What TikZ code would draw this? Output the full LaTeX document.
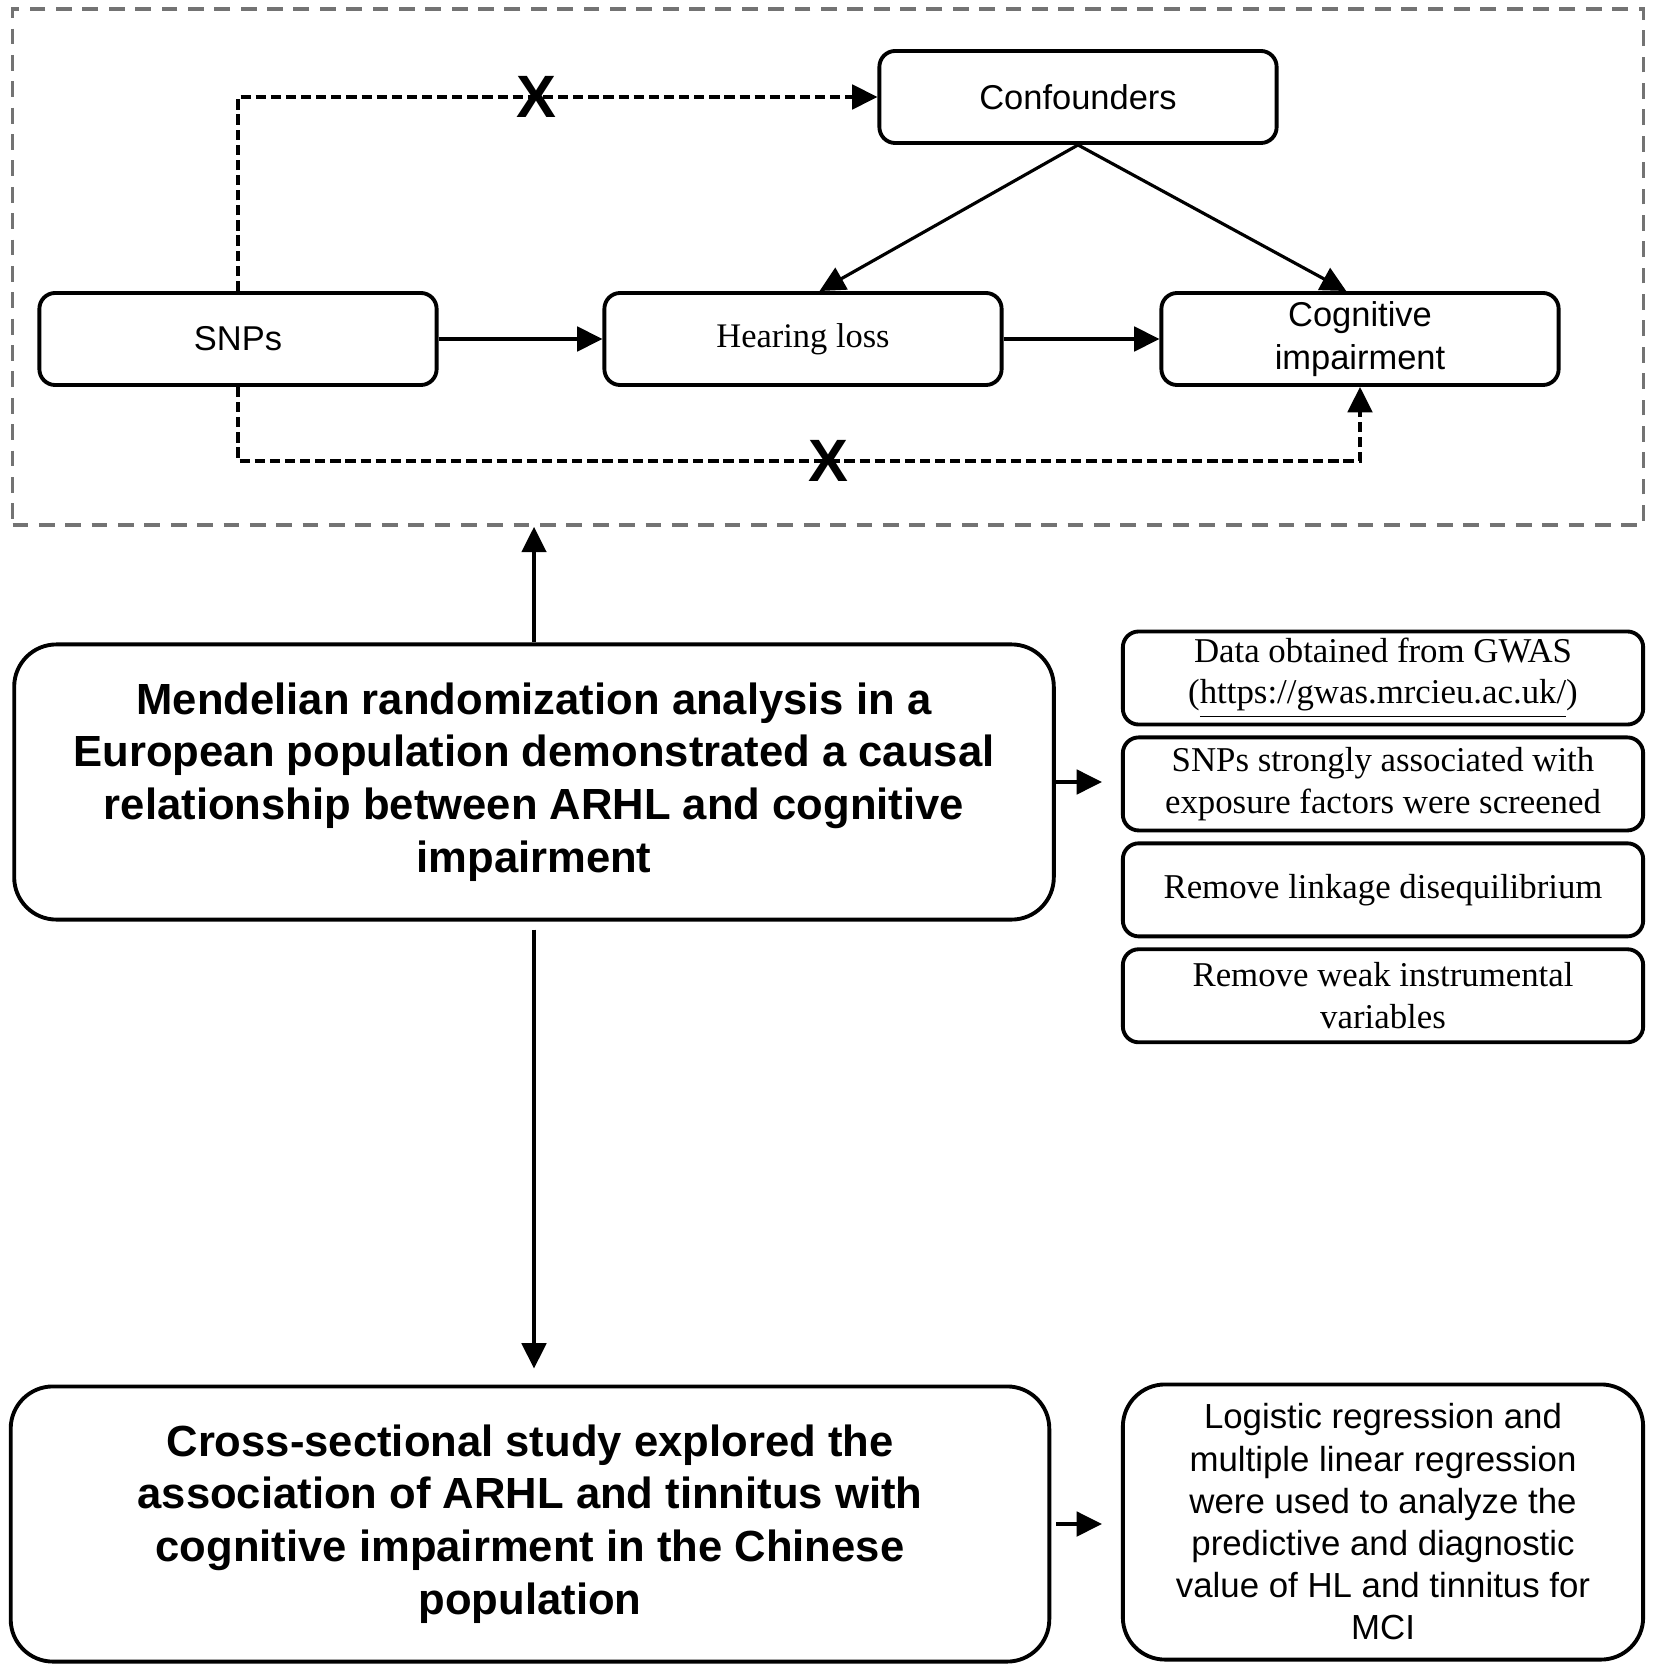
\documentclass[tikz,border=0pt]{standalone}
\usepackage{fontspec}
\setmainfont{Liberation Sans}
\newfontfamily\tnrfont{Liberation Serif}
\usetikzlibrary{arrows.meta,positioning}

\begin{document}
\begin{tikzpicture}[x=0.01cm,y=-0.01cm,
  box/.style={draw,line width=1.1pt,rounded corners=4.5pt,minimum width=3.97cm,minimum height=0.92cm,inner sep=0pt,align=center,font=\fontsize{9.8}{12}\selectfont},
  stepbox/.style={draw,line width=1.1pt,rounded corners=4.5pt,minimum width=5.2cm,minimum height=0.93cm,inner sep=0pt,align=center,font=\tnrfont\fontsize{9.9}{11.9}\selectfont},
  bigbox/.style={draw,line width=1.1pt,rounded corners=12pt,minimum height=2.75cm,inner sep=0pt,align=center,font=\bfseries\fontsize{12.4}{15}\selectfont},
  nolink/.style={inner sep=0pt,font=\bfseries\fontsize{17}{17}\selectfont},
  arr/.style={-{Triangle[length=7.2pt,width=7pt]},line width=0.9pt},
  dasharr/.style={arr,dash pattern=on 2.9pt off 1.4pt}]
  \useasboundingbox (0,0) rectangle (1654,1673);

  % Causal model panel
  \node[draw=black!55,line width=1pt,dash pattern=on 4.5pt off 3pt,minimum width=16.30cm,minimum height=5.16cm] (panel) at (828,267) {};
  \node[box] (conf) at (1078,97) {Confounders};
  \node[box] (snps) at (238,339) {SNPs};
  \node[box,font=\tnrfont\fontsize{9.8}{12}\selectfont] (hl) at (803,339) {Hearing loss};
  \node[box] (ci) at (1360,339) {Cognitive\\impairment};
  \node[nolink] (xtop) at (536,97) {X};
  \node[nolink] (xbot) at (828,461) {X};

  \draw[arr] (snps) -- (hl);
  \draw[arr] (hl) -- (ci);
  \draw[arr] (conf.south) -- (hl.71);
  \draw[arr] (conf.south) -- (ci.106);
  \draw[dasharr] (snps.north) |- (conf.west);
  \draw[dasharr] (snps.south) |- (xbot.center) -| (ci.south);

  % Mendelian randomization
  \node[bigbox,minimum width=10.39cm] (mr) at (534,782) {Mendelian randomization analysis in a\\European population demonstrated a causal\\relationship between ARHL and cognitive\\impairment};
  \node[stepbox] (r1) at (1383,678) {Data obtained from GWAS\\(\underline{https://gwas.mrcieu.ac.uk/})};
  \node[stepbox,below=0.09cm of r1] (r2) {SNPs strongly associated with\\exposure factors were screened};
  \node[stepbox,below=0.09cm of r2] (r3) {Remove linkage disequilibrium};
  \node[stepbox,below=0.09cm of r3] (r4) {Remove weak instrumental\\variables};

  \draw[arr] (mr.north) -- (mr.north |- panel.south);
  \draw[arr,shorten >=0.19cm] (mr.east) -- (mr.east -| r2.west);

  % Cross-sectional study
  \node[bigbox,minimum width=10.38cm] (cs) at (530,1524) {Cross-sectional study explored the\\association of ARHL and tinnitus with\\cognitive impairment in the Chinese\\population};
  \node[bigbox,minimum width=5.2cm,font=\fontsize{9.9}{12}\selectfont] (lr) at (1383,1522) {Logistic regression and\\multiple linear regression\\were used to analyze the\\predictive and diagnostic\\value of HL and tinnitus for\\MCI};

  \draw[arr,shorten <=0.08cm,shorten >=0.16cm] (mr.south) -- (mr.south |- cs.north);
  \draw[arr,shorten <=0.05cm,shorten >=0.19cm] (cs.east) -- (cs.east -| lr.west);
\end{tikzpicture}
\end{document}
